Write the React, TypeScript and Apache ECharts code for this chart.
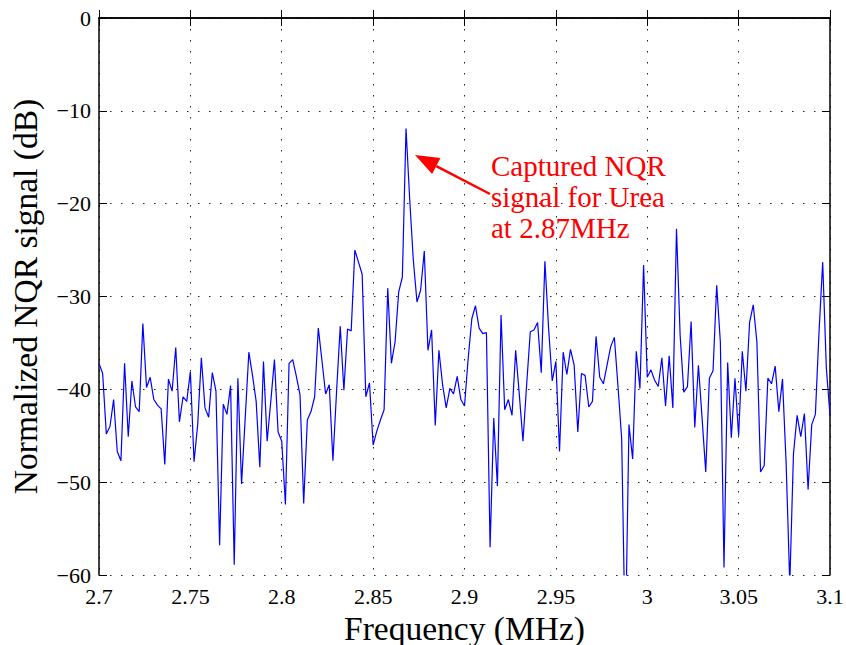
import React, { useEffect, useRef } from "react";
import * as echarts from "echarts";

// Frequency sweep: start (MHz) and step between samples
const freqStart = 2.7;
const freqStep = 0.002;

// Normalized NQR signal (dB), one sample per frequency step
const dbValues: number[] = [
  -37.2, -38.3, -44.8, -44.0, -41.1, -46.7, -47.7, -37.2, -45.1, -39.1,
  -41.9, -42.4, -32.9, -39.8, -38.7, -41.1, -41.7, -42.1, -48.1, -38.9,
  -40.2, -35.5, -43.5, -40.8, -41.3, -38.1, -47.8, -43.8, -36.6, -42.0,
  -43.0, -38.2, -40.2, -56.8, -41.6, -42.7, -39.6, -58.9, -38.8, -50.2,
  -43.1, -36.0, -38.5, -41.3, -48.4, -37.0, -45.6, -41.3, -36.8, -44.6,
  -45.6, -52.4, -37.2, -36.8, -38.6, -40.6, -52.3, -43.3, -42.4, -40.8,
  -33.4, -36.9, -40.5, -39.5, -47.7, -40.2, -33.2, -40.1, -33.5, -33.7,
  -25.0, -26.3, -27.6, -40.8, -39.3, -46.0, -44.5, -43.3, -42.2, -29.1,
  -37.2, -34.9, -29.5, -27.9, -11.9, -19.5, -26.1, -30.6, -29.3, -25.1,
  -35.8, -33.6, -43.9, -35.8, -39.5, -42.0, -39.9, -40.5, -38.6, -41.1,
  -41.8, -36.7, -32.4, -31.0, -33.4, -34.0, -33.9, -57.0, -43.1, -50.4,
  -32.0, -42.2, -41.1, -42.8, -35.8, -40.6, -45.6, -39.5, -33.8, -33.6,
  -32.8, -38.2, -26.2, -33.4, -39.1, -37.0, -46.7, -36.0, -38.4, -35.7,
  -37.4, -44.6, -38.3, -38.5, -41.9, -41.3, -34.3, -38.7, -39.4, -37.4,
  -35.4, -34.4, -39.7, -45.3, -68.0, -43.8, -47.5, -35.9, -39.9, -26.6,
  -38.7, -37.9, -39.0, -39.7, -36.6, -41.8, -36.4, -42.0, -22.7, -34.2,
  -40.3, -39.7, -32.7, -44.1, -37.4, -43.1, -48.9, -38.8, -38.0, -28.8,
  -34.9, -59.2, -37.1, -45.2, -38.8, -45.0, -35.9, -40.2, -32.8, -30.9,
  -34.9, -48.9, -48.2, -38.8, -39.4, -37.5, -42.4, -38.9, -48.0, -61.0,
  -47.0, -42.8, -45.1, -42.6, -50.8, -43.8, -42.7, -33.8, -26.3, -37.7,
  -42.8,
];

// Axis ranges and tick spacing
const xRange = [2.7, 3.1];
const xTickStep = 0.05;
const yRange = [-60, 0];
const yTickStep = 10;

const annotationLines = ["Captured NQR", "signal for Urea", "at 2.87MHz"];

const serif = "Liberation Serif";

export default function App() {
  const ref = useRef<HTMLDivElement>(null);

  useEffect(() => {
    if (!ref.current) return;
    const chart = echarts.init(ref.current, undefined, { renderer: "svg" });

    const points = dbValues.map((v, i) => [
      +(freqStart + i * freqStep).toFixed(3),
      v,
    ]);

    const gridLine = {
      show: true,
      lineStyle: { color: "#222", width: 1, type: [1.5, 9.5] as any },
    };
    const boxLine = { show: true, lineStyle: { color: "#000", width: 1.5 } };
    const innerTick = {
      show: true,
      inside: true,
      length: 8,
      lineStyle: { color: "#000", width: 1 },
    };
    const tickLabel = {
      fontFamily: serif,
      fontSize: 22,
      color: "#000",
    };
    const titleText = { fontFamily: serif, fontSize: 33.5, color: "#000" };

    // arrow from the annotation text toward the peak
    const tail = [490, 194];
    const tip = [415, 155];
    const dx = tip[0] - tail[0];
    const dy = tip[1] - tail[1];
    const len = Math.hypot(dx, dy);
    const ux = dx / len;
    const uy = dy / len;
    const headLen = 24;
    const headHalf = 9;
    const bx = tip[0] - ux * headLen;
    const by = tip[1] - uy * headLen;

    chart.setOption({
      animation: false,
      backgroundColor: "#fff",
      textStyle: { fontFamily: serif, color: "#000" },
      grid: {
        left: 99,
        right: 16,
        top: 18,
        bottom: 70,
        containLabel: false,
        outerBoundsMode: "none",
      },
      xAxis: [
        {
          type: "value",
          min: xRange[0],
          max: xRange[1],
          interval: xTickStep,
          position: "bottom",
          name: "Frequency (MHz)",
          nameLocation: "middle",
          nameGap: 36,
          nameMoveOverlap: false,
          nameTextStyle: titleText,
          axisLine: boxLine,
          axisTick: innerTick,
          splitLine: gridLine,
          axisLabel: {
            ...tickLabel,
            margin: 10,
            formatter: (v: number) => String(+v.toFixed(2)),
          },
        },
        {
          type: "value",
          min: xRange[0],
          max: xRange[1],
          interval: xTickStep,
          position: "top",
          axisLine: boxLine,
          axisTick: innerTick,
          splitLine: { show: false },
          axisLabel: { show: false },
        },
      ],
      yAxis: [
        {
          type: "value",
          min: yRange[0],
          max: yRange[1],
          interval: yTickStep,
          position: "left",
          name: "Normalized NQR signal (dB)",
          nameLocation: "middle",
          nameGap: 57,
          nameMoveOverlap: false,
          nameTextStyle: titleText,
          axisLine: boxLine,
          axisTick: innerTick,
          splitLine: gridLine,
          axisLabel: {
            ...tickLabel,
            margin: 8,
            formatter: (v: number) =>
              v < 0 ? "\u2212" + Math.abs(v) : String(v),
          },
        },
        {
          type: "value",
          min: yRange[0],
          max: yRange[1],
          interval: yTickStep,
          position: "right",
          axisLine: boxLine,
          axisTick: innerTick,
          splitLine: { show: false },
          axisLabel: { show: false },
        },
      ],
      series: [
        {
          type: "line",
          data: points,
          xAxisIndex: 0,
          yAxisIndex: 0,
          showSymbol: false,
          symbol: "none",
          clip: true,
          lineStyle: { color: "#0000ff", width: 1.2 },
          z: 3,
        },
      ],
      graphic: [
        {
          type: "line",
          shape: { x1: tail[0], y1: tail[1], x2: bx, y2: by },
          style: { stroke: "#ff0000", lineWidth: 2.5 },
          z: 10,
        },
        {
          type: "polygon",
          shape: {
            points: [
              [tip[0], tip[1]],
              [bx - uy * headHalf, by + ux * headHalf],
              [bx + uy * headHalf, by - ux * headHalf],
            ],
          },
          style: { fill: "#ff0000" },
          z: 10,
        },
        {
          type: "text",
          left: 491,
          top: 150,
          style: {
            text: annotationLines.join("\n"),
            fill: "#ff0000",
            fontFamily: serif,
            fontSize: 29,
            lineHeight: 31,
          },
          z: 10,
        },
      ],
    });

    return () => chart.dispose();
  }, []);

  return (
    <div
      ref={ref}
      style={{
        position: "fixed",
        left: 0,
        top: 0,
        width: 846,
        height: 645,
        background: "#fff",
      }}
    />
  );
}
